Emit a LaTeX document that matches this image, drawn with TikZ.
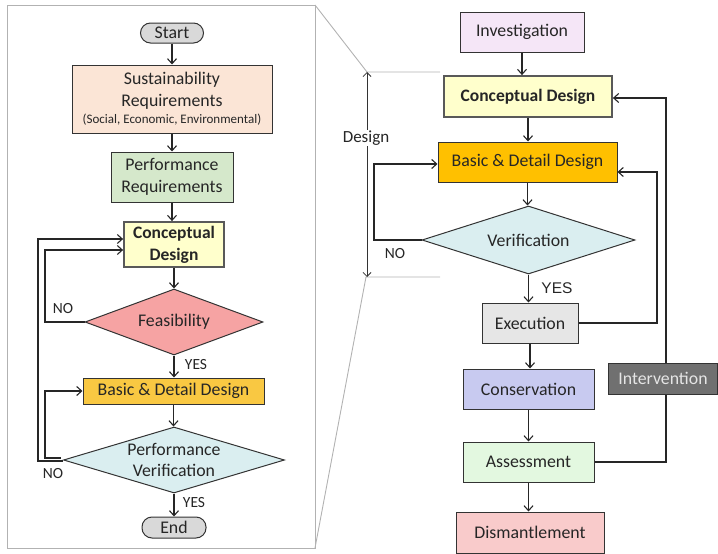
\documentclass[tikz,border=0pt]{standalone}
\usepackage{fontspec}
\setmainfont{Carlito}
\newfontfamily\arialf{Liberation Sans}
\usetikzlibrary{shapes.geometric,arrows.meta,calc}
\definecolor{cstart}{HTML}{D9D9D9}
\definecolor{csust}{HTML}{FBE5D6}
\definecolor{cperf}{HTML}{D5E8CB}
\definecolor{cconc}{HTML}{FFFFCC}
\definecolor{cfeas}{HTML}{F6A3A3}
\definecolor{cbddl}{HTML}{F9C842}
\definecolor{cbddr}{HTML}{FFC000}
\definecolor{cver}{HTML}{DAEEF0}
\definecolor{cinv}{HTML}{F5E6F7}
\definecolor{cexe}{HTML}{E6E6E6}
\definecolor{ccons}{HTML}{C8CAF0}
\definecolor{cass}{HTML}{E3F8E0}
\definecolor{cdis}{HTML}{F9CBCB}
\definecolor{cint}{HTML}{707070}
\definecolor{ctxt}{HTML}{262626}
\begin{document}
\begin{tikzpicture}[x=1pt,y=-1pt,
  box/.style={rectangle, draw=black!80, line width=1pt, align=center, inner sep=0pt,
    text=ctxt, font=\fontsize{17.8}{21.5}\selectfont},
  pill/.style={box, rounded corners=10pt},
  cdbox/.style={box, fill=cconc, draw=gray!70!black, line width=1.8pt,
    font=\fontsize{17.5}{22}\selectfont\bfseries},
  dia/.style={diamond, draw=black!80, line width=1pt, aspect=3, inner sep=0pt,
    align=center, text=ctxt, font=\fontsize{17.8}{20.5}\selectfont},
  arr/.style={draw=black!85, line width=1.1pt, -{Straight Barb[length=5pt,width=9pt]}},
  lbl/.style={text=ctxt, font=\fontsize{15.5}{17}\selectfont, inner sep=0pt},
  frame/.style={draw=gray!60, line width=0.9pt}
]
\useasboundingbox (0,0) rectangle (718,554);

% left frame and zoom lines
\draw[frame] (7,5) rectangle (315,548);
\draw[frame] (315,5) -- (367,72) -- (440,72);
\draw[frame] (315,548) -- (366,277) -- (440,277);
\coordinate (dtop) at (367,72);
\coordinate (dbot) at (367,277);
\draw[draw=black!80, line width=0.8pt, {Straight Barb[length=4pt,width=8pt]}-{Straight Barb[length=4pt,width=8pt]}] (dtop) -- (dbot);
\node[fill=white, text=ctxt, font=\fontsize{17}{19}\selectfont, inner sep=1pt] (design) at (366,138) {Design};

% left flow
\node[pill, fill=cstart, minimum width=63, minimum height=20] (start) at (172,33) {Start};
\node[box, fill=csust, minimum width=200, minimum height=68] (sust) at (172,99)
  {Sustainability\\Requirements\\[-4pt]{\fontsize{13}{14}\selectfont(Social, Economic, Environmental)}};
\node[box, fill=cperf, minimum width=122, minimum height=50] (perf) at (172,177) {Performance\\Requirements};
\node[cdbox, minimum width=100, minimum height=45] (cd) at (174,244.5) {Conceptual\\Design};
\node[dia, fill=cfeas, minimum width=178, minimum height=66] (feas) at (174,322) {Feasibility};
\node[box, fill=cbddl, minimum width=181, minimum height=26] (bdd) at (173.5,391) {Basic \& Detail Design};
\node[dia, fill=cver, minimum width=221, minimum height=66] (pv) at (174,460) {Performance\\Verification};
\node[pill, fill=cstart, minimum width=64, minimum height=21] (endn) at (174,527.5) {End};

\draw[arr] (start) -- (start |- sust.north);
\draw[arr] (sust) -- (sust |- perf.north);
\draw[arr] (perf) -- (perf |- cd.north);
\draw[arr] (cd) -- (cd |- feas.north);
\draw[arr] (feas) -- (feas |- bdd.north);
\draw[arr] (bdd) -- (bdd |- pv.north);
\draw[arr] (pv) -- (pv |- endn.north);

\coordinate (cdA) at ($(cd.west)+(0,-5.5)$);
\coordinate (cdB) at ($(cd.west)+(0,5.5)$);
\draw[arr] (feas.west) -- (45,322) -- (45,250) -- (cdB);
\draw[arr] ($(pv.west)+(0,1)$) -- (38,461) -- (38,239) -- (cdA);
\draw[arr] ($(pv.west)+(-2,-2)$) -- (45,458) -- (45,391) -- (bdd.west);

\node[lbl] (yes1) at (196,365) {YES};
\node[lbl] (yes2) at (194,503) {YES};
\node[lbl] (no1) at (63,309) {NO};
\node[lbl] (no2) at (53,474) {NO};

% right flow
\node[box, fill=cinv, minimum width=124, minimum height=40] (inv) at (522,32) {Investigation};
\node[cdbox, minimum width=168, minimum height=41] (cd2) at (528,96.5) {Conceptual Design};
\node[box, fill=cbddr, minimum width=179, minimum height=40] (bdd2) at (527.5,162) {Basic \& Detail Design};
\node[dia, fill=cver, minimum width=213, minimum height=68] (ver) at (528.5,240) {Verification};
\node[box, fill=cexe, minimum width=96, minimum height=40] (exe) at (530,323) {Execution};
\node[box, fill=ccons, minimum width=131, minimum height=40] (cons) at (528.5,389) {Conservation};
\node[box, fill=cass, minimum width=131, minimum height=40] (ass) at (528.5,462) {Assessment};
\node[box, fill=cdis, minimum width=148, minimum height=41] (dis) at (530,532.5) {Dismantlement};

\draw[arr] (inv) -- (inv |- cd2.north);
\draw[arr] (cd2) -- (cd2 |- bdd2.north);
\draw[arr] (bdd2) -- (bdd2 |- ver.north);
\draw[arr] (ver) -- (ver |- exe.north);
\draw[arr] (exe) -- (exe |- cons.north);
\draw[arr] (cons) -- (cons |- ass.north);
\draw[arr] (ass) -- (ass |- dis.north);

\draw[arr] (ver.west) -- (374,240) -- (374,164) -- ($(bdd2.west)+(0,2)$);
\draw[arr] (exe.east) -- (657,323) -- (657,172) -- ($(bdd2.east)+(0,10)$);
\draw[arr] (ass.east) -- (666,462) -- (666,98) -- ($(cd2.east)+(0,1.5)$);

\node[box, fill=cint, text=white!90!black, minimum width=109, minimum height=31] (int) at (663,378.5) {Intervention};

\node[lbl, font=\arialf\fontsize{15.5}{17}\selectfont] (yes3) at (557,288) {YES};
\node[lbl] (no3) at (395,254) {NO};
\end{tikzpicture}
\end{document}
